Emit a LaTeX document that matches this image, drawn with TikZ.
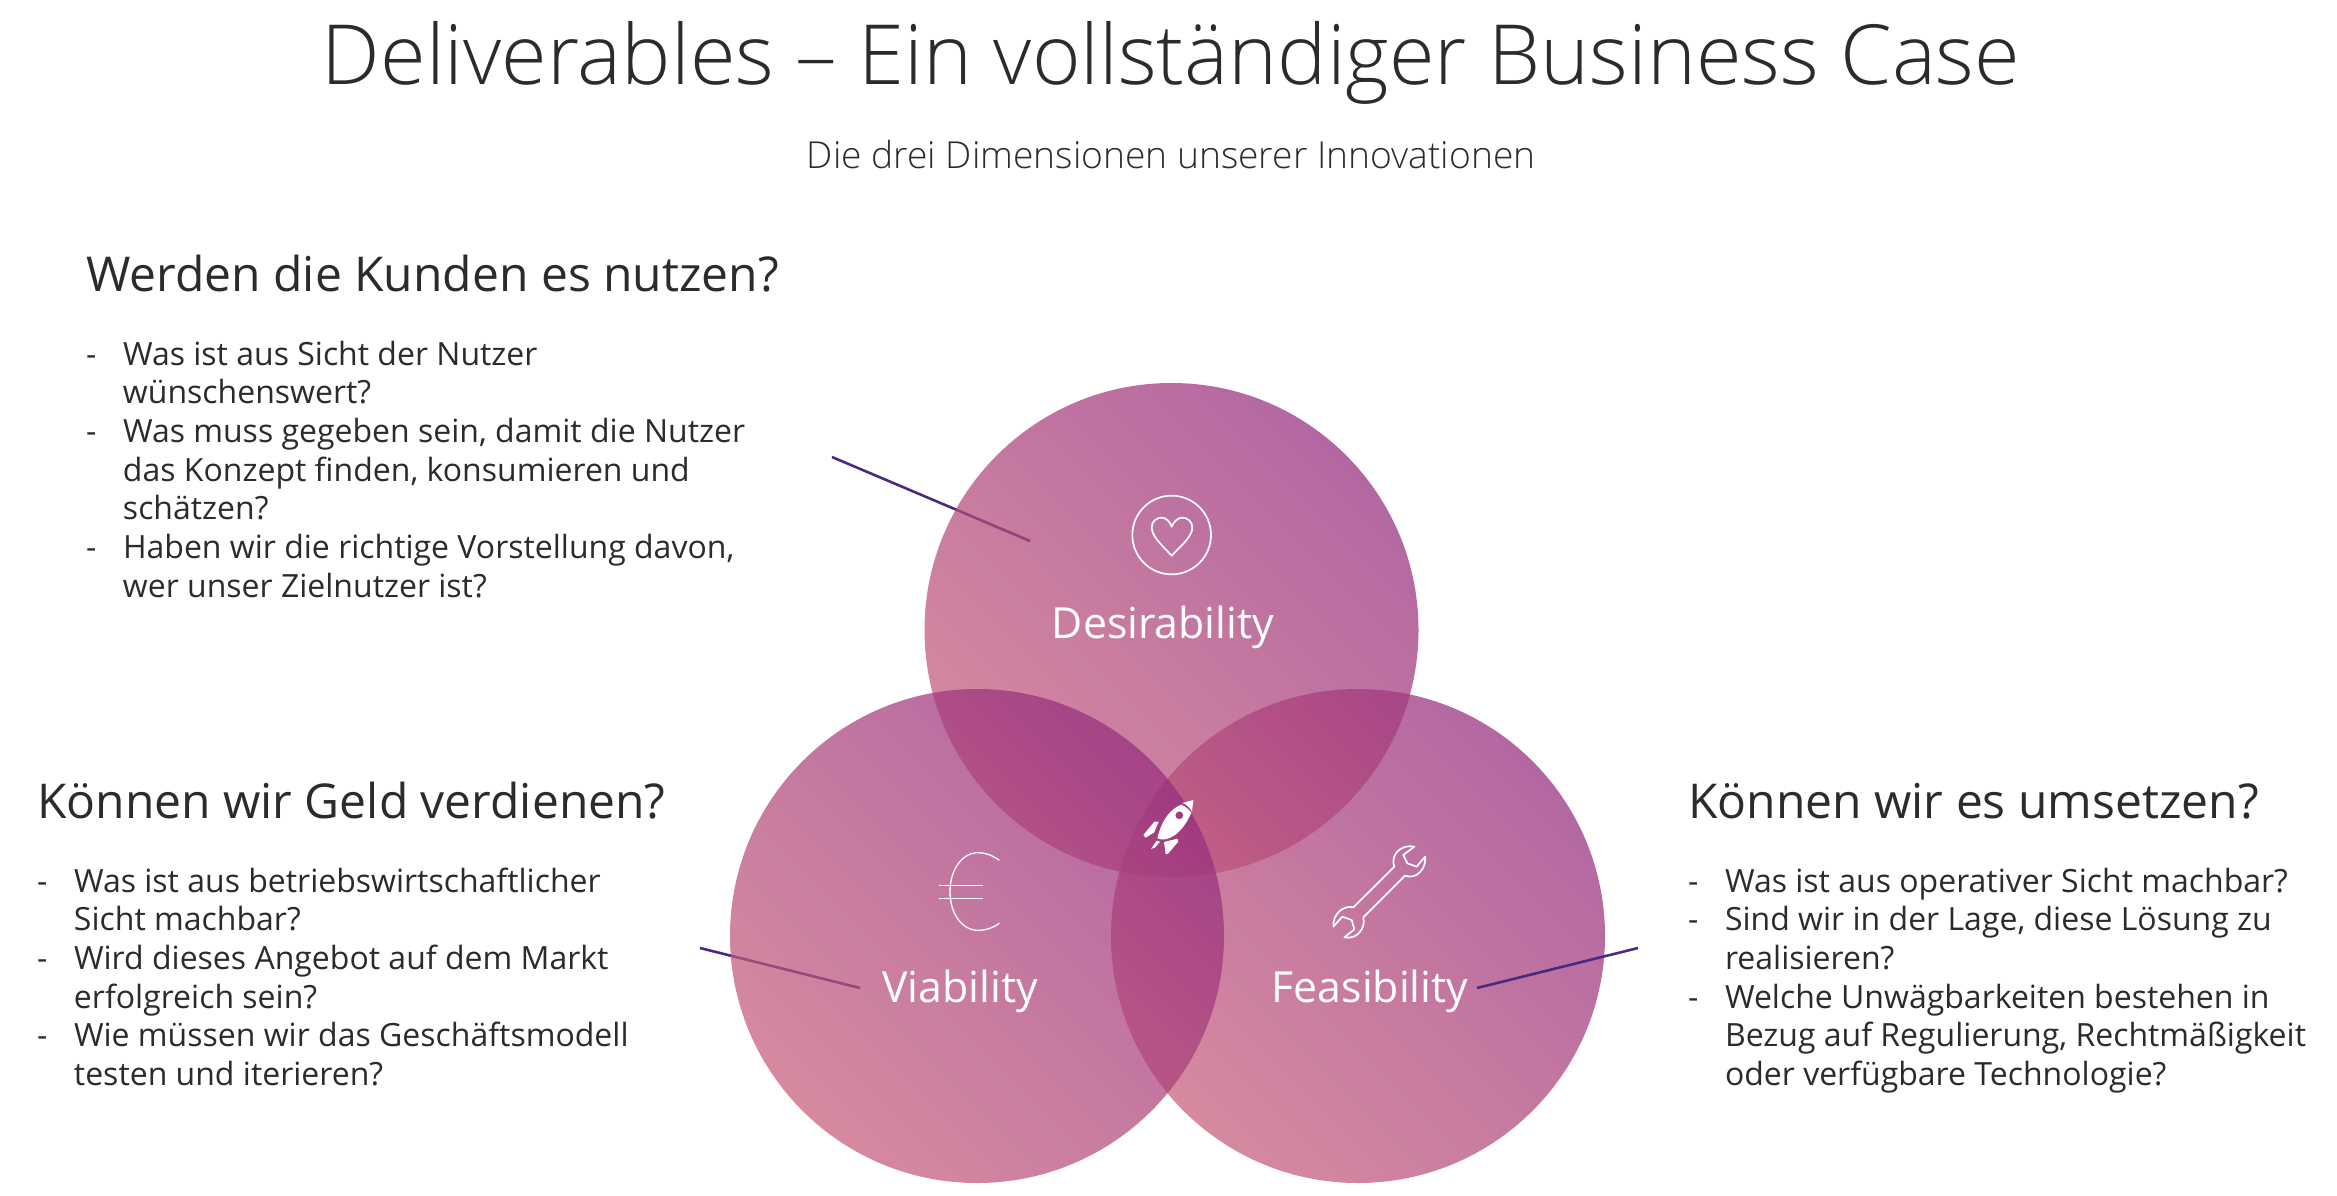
\documentclass[tikz,border=0pt]{standalone}
\usepackage{fontspec}
\setmainfont{Open Sans}
\newfontfamily\lightfont{Open Sans Light}
\usetikzlibrary{calc}
\definecolor{ink}{HTML}{2E2A2C}
\definecolor{linecol}{HTML}{4A2A80}
\definecolor{pinkbase}{RGB}{198,92,122}
\definecolor{purplebase}{RGB}{150,45,126}
\tikzset{
  x=1pt,y=-1pt,
  venn/.style={left color=pinkbase,right color=purplebase,shading angle=135,opacity=0.72},
  titletext/.style={anchor=base,inner sep=0,text=ink,font=\lightfont\fontsize{83}{90}\selectfont},
  subtext/.style={anchor=base,inner sep=0,text=ink,font=\lightfont\fontsize{37.2}{42}\selectfont},
  headtext/.style={anchor=base west,inner sep=0,text=ink,font=\fontsize{48}{56}\selectfont},
  bodytext/.style={anchor=base west,inner sep=0,text=ink,font=\fontsize{32}{38.7}\selectfont},
  circlelabel/.style={anchor=base,inner sep=0,text=white,font=\fontsize{42.8}{50}\selectfont},
  pointer/.style={draw=linecol,line width=2.6pt},
  iconline/.style={draw=white,line width=1.7pt,line join=round,line cap=round},
  iconfill/.style={fill=white,draw=none},
}
\newcommand{\bodyblock}[1]{\begin{tabular}[t]{@{}l@{\hspace{26.5pt}}l@{}}#1\end{tabular}}
\begin{document}
\begin{tikzpicture}
\useasboundingbox (0,0) rectangle (2337,1196);
% pointer ends
\coordinate (pD1) at (832,457);
\coordinate (pD2) at (1030,541);
\coordinate (pV1) at (700,948);
\coordinate (pV2) at (860,988);
\coordinate (pF1) at (1477,988);
\coordinate (pF2) at (1638,948);
% these two run beneath the translucent circles
\draw[pointer] (pD1) -- (pD2);
\draw[pointer] (pV1) -- (pV2);
% circles
\shade[venn] (1358,936) circle[radius=247];
\shade[venn] (1171.5,630) circle[radius=247];
\shade[venn] (977,936) circle[radius=247];
% this one runs over its circle
\draw[pointer] (pF1) -- (pF2);
% title
\node[titletext] (title) at (1171,85) {Deliverables – Ein vollständiger Business Case};
\node[subtext] (subtitle) at (1171,168) {Die drei Dimensionen unserer Innovationen};
% left upper
\node[headtext] (headD) at (86,291) {Werden die Kunden es nutzen?};
\node[bodytext] (bodyD) at (86,365) {\bodyblock{-&Was ist aus Sicht der Nutzer\\&wünschenswert?\\-&Was muss gegeben sein, damit die Nutzer\\&das Konzept finden, konsumieren und\\&schätzen?\\-&Haben wir die richtige Vorstellung davon,\\&wer unser Zielnutzer ist?}};
% left lower
\node[headtext] (headV) at (37,818) {Können wir Geld verdienen?};
\node[bodytext] (bodyV) at (37,892) {\bodyblock{-&Was ist aus betriebswirtschaftlicher\\&Sicht machbar?\\-&Wird dieses Angebot auf dem Markt\\&erfolgreich sein?\\-&Wie müssen wir das Geschäftsmodell\\&testen und iterieren?}};
% right
\node[headtext] (headF) at (1688,818) {Können wir es umsetzen?};
\node[bodytext] (bodyF) at (1688,892) {\bodyblock{-&Was ist aus operativer Sicht machbar?\\-&Sind wir in der Lage, diese Lösung zu\\&realisieren?\\-&Welche Unwägbarkeiten bestehen in\\&Bezug auf Regulierung, Rechtmäßigkeit\\&oder verfügbare Technologie?}};
% labels
\node[circlelabel] (labD) at (1163,638) {Desirability};
\node[circlelabel] (labV) at (960,1002) {Viability};
\node[circlelabel] (labF) at (1370,1002) {Feasibility};
% heart icon
\begin{scope}[shift={(1080,480)},x=1pt/3,y=-1pt/3]
\draw[iconline,line width=1.7pt] (275,165) circle[radius=118];
\draw[iconline] (275,227) .. controls (250,200) and (215,170) .. (215,142) .. controls (215,122) and (232,113) .. (245,113) .. controls (258,113) and (270,125) .. (275,140) .. controls (281,125) and (293,113) .. (307,113) .. controls (322,113) and (337,124) .. (337,143) .. controls (337,170) and (300,200) .. (275,227) -- cycle;
\end{scope}
% euro icon
\begin{scope}[shift={(900,830)},x=1pt/3,y=-1pt/3]
\draw[iconline,line width=1.3pt] (297,90) .. controls (275,75) and (255,68) .. (235,68) .. controls (185,68) and (150,120) .. (150,185) .. controls (150,250) and (185,301) .. (235,301) .. controls (255,301) and (278,295) .. (297,280);
\draw[iconline,line width=1.3pt,line cap=butt] (117,167) -- (250,167) (117,205) -- (250,205);
\end{scope}
% wrench icon
\begin{scope}[shift={(1310,825)},x=1pt/3,y=-1pt/3]
\draw[iconline] (313,65) .. controls (280,58) and (250,80) .. (250,110) .. controls (250,118) and (252,122) .. (253,125) -- (130,247) .. controls (105,240) and (68,262) .. (70,305) -- (97,275) -- (125,285) -- (133,313) -- (103,337) .. controls (140,345) and (168,310) .. (160,277) -- (285,152) .. controls (320,165) and (350,130) .. (345,95) -- (320,125) -- (292,115) -- (280,90) -- cycle;
\end{scope}
% rocket icon
\begin{scope}[shift={(1100,770)},x=1pt/3,y=-1pt/3]
\fill[iconfill,even odd rule] (243,104) .. controls (210,118) and (185,150) .. (172,205) .. controls (200,218) and (245,195) .. (274,128) .. controls (266,118) and (255,108) .. (243,104) -- cycle (238,136) circle[radius=12];
\fill[iconfill] (247,99) -- (280,90) -- (276,124) .. controls (270,112) and (260,104) .. (247,99) -- cycle;
\fill[iconfill] (130,195) -- (163,155) -- (176,155) .. controls (170,170) and (165,180) .. (163,187) -- (137,203) -- cycle;
\fill[iconfill] (153,237) -- (170,212) -- (180,215) -- (166,232) -- cycle;
\fill[iconfill] (192,216) -- (232,206) -- (235,215) -- (205,250) -- (197,253) -- cycle;
\end{scope}
\end{tikzpicture}
\end{document}
